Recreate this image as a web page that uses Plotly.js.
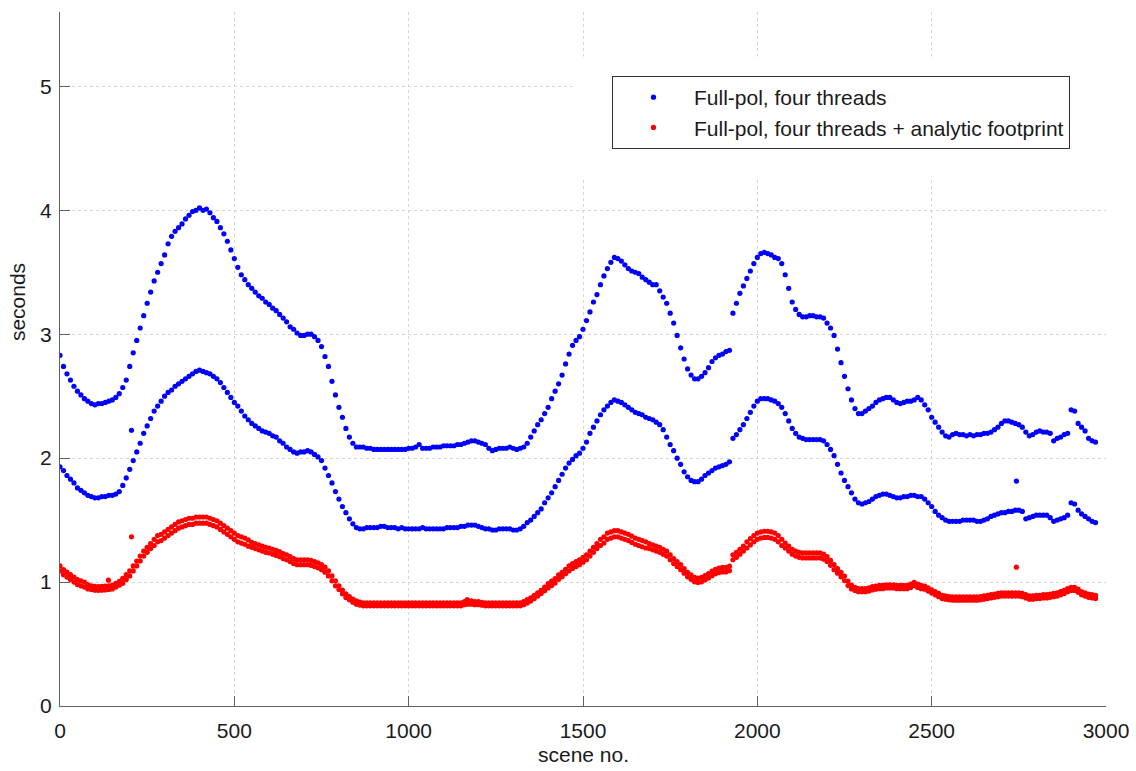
<!DOCTYPE html>
<html>
<head>
<meta charset="utf-8">
<script src="https://cdn.plot.ly/plotly-3.0.1.min.js"></script>
<style>html,body{margin:0;padding:0;background:#fff;}#chart{width:1136px;height:771px;}</style>
</head>
<body>
<div id="chart"></div>
<script>
// Processing time per scene (seconds), sampled every 10 scenes from 0 to 2970
const blueUpper = [
2.83,2.74,2.68,2.63,2.58,2.54,2.51,2.48,2.46,2.44,
2.43,2.44,2.44,2.45,2.46,2.47,2.49,2.52,2.57,2.63,
2.74,2.85,2.95,3.05,3.15,3.25,3.34,3.43,3.50,3.57,
3.64,3.73,3.79,3.83,3.86,3.89,3.93,3.96,3.99,4.00,
4.02,4.00,4.01,3.98,3.94,3.91,3.86,3.81,3.75,3.68,
3.61,3.54,3.48,3.44,3.40,3.37,3.34,3.31,3.29,3.26,
3.24,3.21,3.19,3.16,3.13,3.10,3.06,3.04,3.01,2.99,
2.99,3.00,3.00,2.98,2.95,2.90,2.82,2.74,2.62,2.51,
2.41,2.33,2.24,2.17,2.12,2.09,2.09,2.09,2.08,2.08,
2.07,2.07,2.07,2.07,2.07,2.07,2.07,2.07,2.07,2.07,
2.08,2.08,2.09,2.11,2.08,2.08,2.08,2.09,2.09,2.09,
2.10,2.10,2.10,2.10,2.11,2.11,2.12,2.13,2.14,2.14,
2.13,2.12,2.11,2.08,2.06,2.07,2.08,2.08,2.08,2.09,
2.08,2.07,2.08,2.09,2.12,2.17,2.22,2.27,2.31,2.36,
2.41,2.48,2.54,2.60,2.67,2.76,2.84,2.91,2.95,2.98,
3.04,3.11,3.18,3.26,3.32,3.40,3.47,3.53,3.58,3.62,
3.61,3.59,3.56,3.53,3.51,3.50,3.49,3.46,3.44,3.42,
3.40,3.40,3.35,3.30,3.25,3.17,3.09,2.99,2.89,2.80,
2.72,2.67,2.64,2.64,2.66,2.69,2.73,2.78,2.81,2.83,
2.84,2.86,2.87,3.17,3.25,3.33,3.39,3.45,3.51,3.57,
3.62,3.65,3.66,3.65,3.64,3.62,3.61,3.57,3.48,3.37,
3.26,3.20,3.16,3.14,3.14,3.15,3.15,3.14,3.14,3.13,
3.09,3.05,2.99,2.88,2.77,2.66,2.56,2.47,2.40,2.36,
2.36,2.38,2.40,2.42,2.45,2.47,2.48,2.49,2.49,2.47,
2.45,2.44,2.45,2.46,2.46,2.47,2.49,2.47,2.43,2.39,
2.33,2.29,2.25,2.21,2.18,2.17,2.19,2.20,2.19,2.19,
2.18,2.19,2.18,2.19,2.19,2.20,2.20,2.21,2.23,2.25,
2.28,2.30,2.30,2.29,2.28,2.27,2.25,2.21,2.18,2.19,
2.21,2.22,2.21,2.21,2.20,2.14,2.16,2.17,2.19,2.20,
2.39,2.38,2.28,2.25,2.22,2.16,2.14,2.13
];

const blueLower = [
1.93,1.90,1.86,1.83,1.80,1.76,1.74,1.72,1.70,1.69,
1.68,1.68,1.69,1.69,1.70,1.70,1.71,1.73,1.78,1.84,
1.91,1.98,2.05,2.12,2.20,2.26,2.32,2.38,2.42,2.46,
2.50,2.53,2.55,2.58,2.60,2.62,2.64,2.66,2.68,2.70,
2.71,2.70,2.69,2.68,2.66,2.64,2.61,2.57,2.53,2.49,
2.45,2.42,2.38,2.34,2.31,2.28,2.26,2.24,2.22,2.21,
2.20,2.18,2.17,2.14,2.12,2.09,2.07,2.05,2.04,2.05,
2.05,2.06,2.05,2.03,2.01,1.98,1.92,1.86,1.80,1.73,
1.67,1.61,1.56,1.51,1.47,1.44,1.43,1.43,1.44,1.44,
1.44,1.44,1.45,1.45,1.44,1.44,1.44,1.43,1.44,1.43,
1.43,1.43,1.43,1.43,1.44,1.43,1.43,1.43,1.43,1.43,
1.43,1.44,1.44,1.44,1.44,1.45,1.45,1.46,1.46,1.46,
1.45,1.44,1.43,1.43,1.42,1.42,1.43,1.43,1.43,1.43,
1.42,1.42,1.43,1.45,1.48,1.50,1.53,1.56,1.59,1.64,
1.68,1.72,1.77,1.82,1.87,1.92,1.96,1.99,2.02,2.04,
2.08,2.13,2.20,2.25,2.30,2.35,2.39,2.42,2.45,2.47,
2.46,2.45,2.43,2.41,2.39,2.37,2.36,2.35,2.33,2.32,
2.31,2.29,2.27,2.23,2.17,2.11,2.06,2.00,1.95,1.89,
1.85,1.82,1.81,1.81,1.83,1.86,1.88,1.90,1.92,1.93,
1.94,1.95,1.97,2.16,2.19,2.23,2.27,2.32,2.37,2.42,
2.46,2.48,2.48,2.48,2.47,2.46,2.44,2.41,2.36,2.30,
2.24,2.20,2.17,2.16,2.15,2.15,2.15,2.15,2.15,2.14,
2.11,2.07,2.02,1.95,1.88,1.82,1.77,1.72,1.67,1.64,
1.63,1.64,1.65,1.67,1.69,1.70,1.71,1.71,1.70,1.69,
1.68,1.68,1.69,1.69,1.70,1.70,1.69,1.69,1.67,1.64,
1.61,1.57,1.54,1.52,1.50,1.49,1.49,1.49,1.49,1.50,
1.50,1.50,1.50,1.49,1.49,1.50,1.51,1.53,1.54,1.55,
1.56,1.56,1.57,1.57,1.58,1.58,1.57,1.51,1.52,1.53,
1.54,1.54,1.54,1.54,1.52,1.49,1.50,1.51,1.52,1.54,
1.64,1.63,1.58,1.55,1.53,1.51,1.49,1.48
];

const redUpper = [
1.13,1.10,1.08,1.06,1.04,1.02,1.01,1.00,0.98,0.97,
0.965,0.963,0.965,0.967,0.97,0.975,0.99,1.005,1.03,1.06,
1.09,1.13,1.17,1.21,1.25,1.28,1.31,1.345,1.375,1.385,
1.405,1.425,1.445,1.465,1.485,1.495,1.505,1.515,1.515,1.525,
1.525,1.525,1.525,1.515,1.505,1.495,1.475,1.455,1.435,1.415,
1.395,1.375,1.365,1.355,1.34,1.32,1.31,1.30,1.29,1.28,
1.275,1.265,1.255,1.245,1.23,1.22,1.205,1.19,1.18,1.18,
1.18,1.18,1.175,1.165,1.155,1.14,1.12,1.09,1.05,1.01,
0.97,0.935,0.905,0.883,0.863,0.848,0.838,0.832,0.832,0.832,
0.832,0.832,0.832,0.832,0.832,0.832,0.832,0.832,0.832,0.832,
0.832,0.832,0.832,0.832,0.832,0.832,0.832,0.832,0.832,0.832,
0.832,0.832,0.832,0.832,0.832,0.832,0.842,0.848,0.848,0.842,
0.842,0.837,0.832,0.832,0.832,0.832,0.832,0.832,0.832,0.832,
0.832,0.832,0.832,0.842,0.858,0.873,0.893,0.913,0.933,0.96,
0.988,1.008,1.028,1.058,1.078,1.103,1.13,1.15,1.165,1.18,
1.20,1.22,1.25,1.28,1.31,1.345,1.365,1.395,1.405,1.415,
1.415,1.405,1.395,1.385,1.37,1.355,1.345,1.335,1.325,1.31,
1.30,1.29,1.28,1.265,1.25,1.22,1.19,1.165,1.14,1.108,
1.078,1.058,1.038,1.033,1.038,1.053,1.068,1.088,1.103,1.113,
1.118,1.118,1.128,1.22,1.24,1.265,1.29,1.325,1.35,1.375,
1.395,1.405,1.41,1.41,1.405,1.395,1.375,1.345,1.315,1.29,
1.265,1.25,1.24,1.235,1.235,1.235,1.235,1.235,1.235,1.225,
1.205,1.175,1.14,1.108,1.078,1.048,1.008,0.975,0.958,0.948,
0.948,0.948,0.953,0.963,0.968,0.973,0.973,0.978,0.978,0.978,
0.973,0.973,0.973,0.973,0.983,0.998,0.983,0.973,0.968,0.953,
0.938,0.923,0.908,0.893,0.888,0.883,0.88,0.88,0.88,0.88,
0.88,0.88,0.88,0.88,0.883,0.888,0.893,0.898,0.903,0.908,
0.913,0.913,0.913,0.913,0.913,0.913,0.908,0.898,0.888,0.888,
0.893,0.893,0.898,0.898,0.903,0.908,0.913,0.923,0.933,0.948,
0.958,0.958,0.943,0.923,0.913,0.903,0.898,0.893
];

const redLower = [
1.09,1.06,1.04,1.02,1.00,0.98,0.97,0.96,0.945,0.94,
0.935,0.933,0.935,0.937,0.94,0.945,0.96,0.975,0.99,1.02,
1.05,1.09,1.13,1.17,1.21,1.24,1.27,1.295,1.325,1.335,
1.355,1.375,1.395,1.415,1.435,1.445,1.455,1.465,1.465,1.475,
1.475,1.475,1.475,1.465,1.455,1.445,1.425,1.405,1.385,1.365,
1.345,1.325,1.315,1.305,1.29,1.28,1.27,1.26,1.25,1.24,
1.235,1.225,1.215,1.205,1.19,1.18,1.165,1.15,1.14,1.14,
1.14,1.14,1.135,1.125,1.115,1.10,1.08,1.05,1.01,0.97,
0.94,0.905,0.875,0.857,0.837,0.822,0.814,0.808,0.808,0.808,
0.808,0.808,0.808,0.808,0.808,0.808,0.808,0.808,0.808,0.808,
0.808,0.808,0.808,0.808,0.808,0.808,0.808,0.808,0.808,0.808,
0.808,0.808,0.808,0.808,0.808,0.808,0.818,0.822,0.822,0.818,
0.818,0.813,0.808,0.808,0.808,0.808,0.808,0.808,0.808,0.808,
0.808,0.808,0.808,0.818,0.832,0.847,0.867,0.887,0.907,0.93,
0.952,0.972,0.992,1.022,1.042,1.067,1.09,1.11,1.125,1.14,
1.16,1.18,1.21,1.24,1.27,1.295,1.315,1.345,1.355,1.365,
1.365,1.355,1.345,1.335,1.32,1.305,1.295,1.285,1.275,1.27,
1.26,1.25,1.24,1.225,1.21,1.18,1.15,1.125,1.10,1.072,
1.042,1.022,1.002,0.997,1.002,1.017,1.032,1.052,1.067,1.077,
1.082,1.082,1.092,1.18,1.20,1.225,1.25,1.275,1.30,1.325,
1.345,1.355,1.36,1.36,1.355,1.345,1.325,1.295,1.275,1.25,
1.225,1.21,1.20,1.195,1.195,1.195,1.195,1.195,1.195,1.185,
1.165,1.135,1.10,1.072,1.042,1.012,0.972,0.945,0.932,0.922,
0.922,0.922,0.927,0.937,0.942,0.947,0.947,0.952,0.952,0.952,
0.947,0.947,0.947,0.947,0.957,0.972,0.957,0.947,0.942,0.927,
0.912,0.897,0.882,0.867,0.862,0.857,0.854,0.854,0.854,0.854,
0.854,0.854,0.854,0.854,0.857,0.862,0.867,0.872,0.877,0.882,
0.887,0.887,0.887,0.887,0.887,0.887,0.882,0.872,0.862,0.862,
0.867,0.867,0.872,0.872,0.877,0.882,0.887,0.897,0.907,0.922,
0.932,0.932,0.917,0.897,0.887,0.877,0.872,0.867
];

// isolated outlier scenes
const blueOutlierScene = [205, 2743];
const blueOutlierSec = [2.225, 1.815];
const redOutlierScene = [139, 205, 1168, 2743];
const redOutlierSec = [1.015, 1.365, 0.858, 1.12];

const sceneStep = 10;
const sceneNo = blueUpper.map((_, i) => i * sceneStep);

const legendNames = ['Full-pol, four threads', 'Full-pol, four threads + analytic footprint'];
const xTicks = [0, 500, 1000, 1500, 2000, 2500, 3000];
const yTicks = [0, 1, 2, 3, 4, 5];

const BLUE = '#0000ff', RED = '#ff0000';
const FONT = 'Liberation Sans, Arial, Helvetica, sans-serif';
const mk = (c) => ({color: c, size: 5.2, line: {width: 0}});

const traces = [
  {x: sceneNo, y: blueUpper, type: 'scatter', mode: 'markers', marker: mk(BLUE), name: legendNames[0], legendgroup: 'b', showlegend: true},
  {x: sceneNo, y: blueLower, type: 'scatter', mode: 'markers', marker: mk(BLUE), name: legendNames[0], legendgroup: 'b', showlegend: false},
  {x: blueOutlierScene, y: blueOutlierSec, type: 'scatter', mode: 'markers', marker: mk(BLUE), name: legendNames[0], legendgroup: 'b', showlegend: false},
  {x: sceneNo, y: redUpper, type: 'scatter', mode: 'markers', marker: mk(RED), name: legendNames[1], legendgroup: 'r', showlegend: true},
  {x: sceneNo, y: redLower, type: 'scatter', mode: 'markers', marker: mk(RED), name: legendNames[1], legendgroup: 'r', showlegend: false},
  {x: redOutlierScene, y: redOutlierSec, type: 'scatter', mode: 'markers', marker: mk(RED), name: legendNames[1], legendgroup: 'r', showlegend: false}
];

const axisCommon = {
  ticks: 'inside', ticklen: 10, tickwidth: 1, tickcolor: '#606060',
  showline: true, linecolor: '#606060', linewidth: 1, mirror: false,
  showgrid: true, gridcolor: '#d6d6d6', gridwidth: 1, griddash: 'dot',
  zeroline: false, tickfont: {family: FONT, size: 21, color: '#1a1a1a'},
  fixedrange: true
};

const layout = {
  width: 1136, height: 771,
  margin: {l: 60, r: 30, t: 12, b: 65, pad: 0},
  paper_bgcolor: '#ffffff', plot_bgcolor: '#ffffff',
  font: {family: FONT, size: 21, color: '#1a1a1a'},
  xaxis: Object.assign({}, axisCommon, {range: [0, 3000], tickvals: xTicks, ticktext: xTicks.map(String), ticklabelstandoff: 6}),
  yaxis: Object.assign({}, axisCommon, {range: [0, 5.6], tickvals: yTicks, ticktext: yTicks.map(String), ticklabelstandoff: 3}),
  showlegend: true,
  legend: {
    x: 0.5277, y: 0.9078, xanchor: 'left', yanchor: 'top',
    bgcolor: '#ffffff', bordercolor: '#333333', borderwidth: 1,
    font: {family: FONT, size: 21, color: '#1a1a1a'},
    itemwidth: 71, itemsizing: 'trace', tracegroupgap: 0
  },
  shapes: [
    {type: 'rect', xref: 'x', yref: 'y', x0: 1470, x1: 3000, y0: 4.27, y1: 5.24,
     fillcolor: '#ffffff', line: {width: 0}, layer: 'between'}
  ],
  annotations: [
    {text: 'scene no.', xref: 'paper', yref: 'paper', x: 0.5, y: -0.0706, xanchor: 'center', yanchor: 'middle',
     showarrow: false, font: {family: FONT, size: 21, color: '#1a1a1a'}},
    {text: 'seconds', xref: 'paper', yref: 'paper', x: -0.0411, y: 0.582, xanchor: 'center', yanchor: 'middle',
     textangle: -90, showarrow: false, font: {family: FONT, size: 21, color: '#1a1a1a'}}
  ]
};

Plotly.newPlot('chart', traces, layout, {staticPlot: true, displayModeBar: false});
</script>
</body>
</html>
